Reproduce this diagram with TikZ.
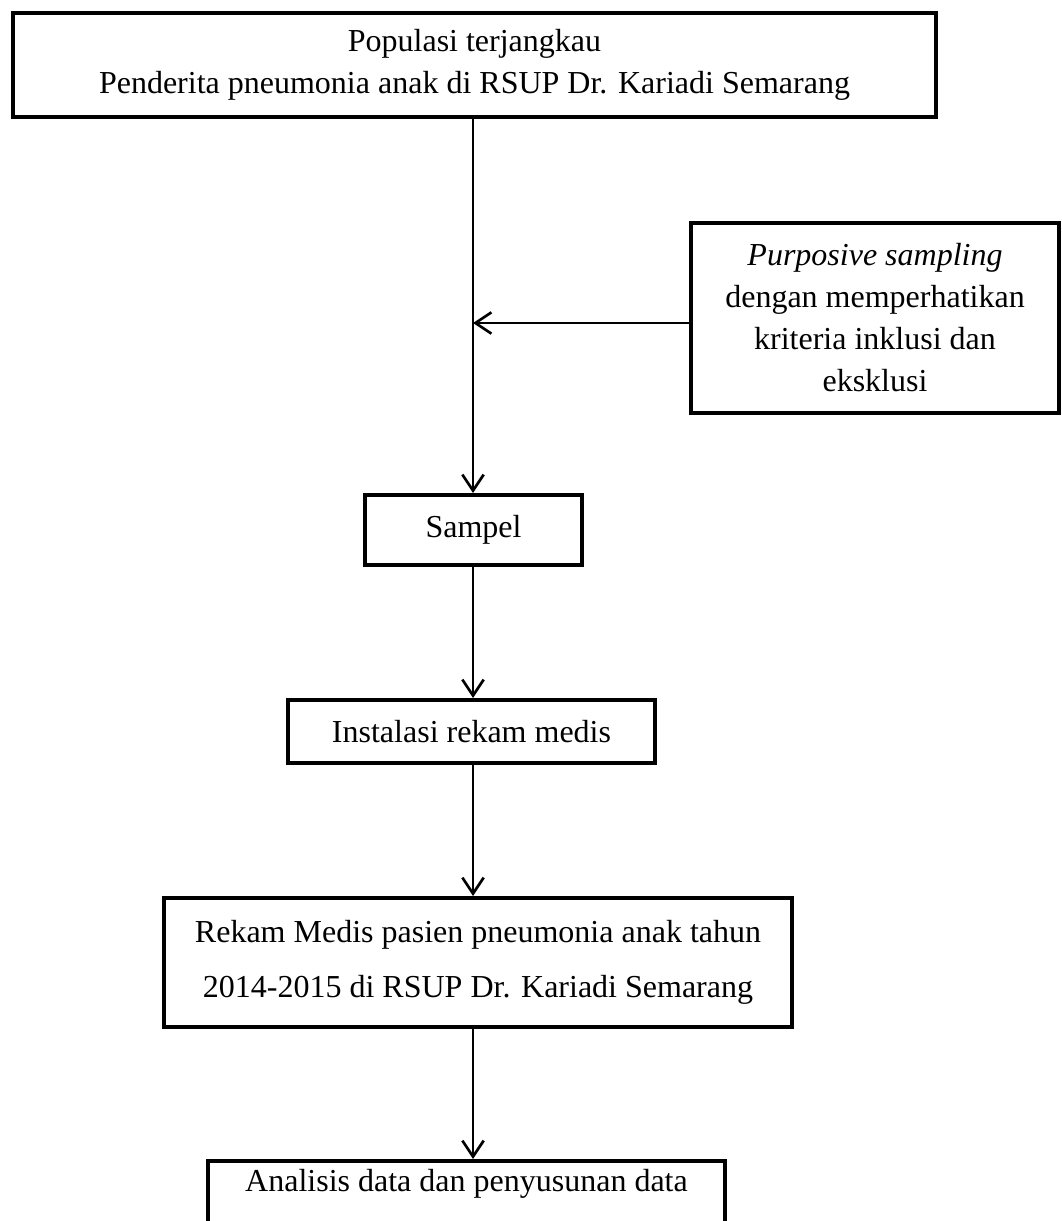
\documentclass[tikz,border=0pt]{standalone}
\usepackage{fontspec}
\setmainfont{Liberation Serif}
\usepackage{tikz}
\usetikzlibrary{arrows.meta, positioning, calc}
\tikzstyle{mainbox} = [rectangle, draw=black, line width=1.5pt, inner sep=0pt, text centered, align=center, font=\fontsize{12}{15.75}\selectfont]
\tikzstyle{sidebox} = [mainbox]
\tikzstyle{widebox} = [mainbox, font=\fontsize{12}{20.6}\selectfont]
\tikzstyle{arrow}   = [line width=1pt,-{Straight Barb[length=6pt,width=8pt]}]

\begin{document}
\begin{tikzpicture}[x=0.375pt, y=-0.375pt]
\clip (0,0) rectangle (1061,1221);
\node (populasi) [mainbox, minimum width=923*0.375pt, minimum height=104*0.375pt] at (474.5,65) {Populasi terjangkau\\Penderita pneumonia anak di RSUP Dr. Kariadi Semarang};
\node (purposive) [sidebox, minimum width=368*0.375pt, minimum height=190*0.375pt] at (875,318) {\textit{Purposive sampling}\\dengan memperhatikan\\kriteria inklusi dan\\eksklusi};
\node (sampel) [mainbox, minimum width=217*0.375pt, minimum height=70*0.375pt] at (473.5,530) {Sampel};
\node (instalasi) [mainbox, minimum width=367*0.375pt, minimum height=63*0.375pt] at (471.5,731.5) {Instalasi rekam medis};
\node (rekam) [widebox, minimum width=628*0.375pt, minimum height=129*0.375pt] at (478,962.5) {Rekam Medis pasien pneumonia anak tahun\\2014-2015 di RSUP Dr. Kariadi Semarang};
\node (analisis) [mainbox, minimum width=517*0.375pt, text height=11.25pt, text depth=30pt, anchor=north] at (466.5,1159) {Analisis data dan penyusunan data};
\coordinate (join) at (473,323);

\draw [line width=1pt] (populasi.south -| join) -- (join);
\draw [arrow] (join) -- (join |- sampel.north);
\draw [arrow] (purposive.west |- join) -- (join);
\draw [arrow] (sampel.south -| join) -- (join |- instalasi.north);
\draw [arrow] (instalasi.south -| join) -- (join |- rekam.north);
\draw [arrow] (rekam.south -| join) -- (join |- analisis.north);
\end{tikzpicture}
\end{document}
